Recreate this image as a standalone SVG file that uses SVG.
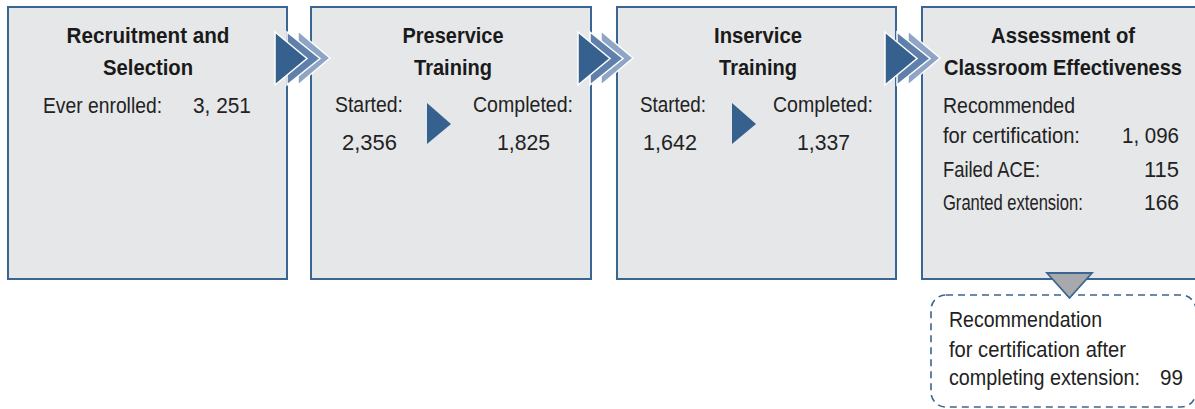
<svg xmlns="http://www.w3.org/2000/svg" width="1195" height="409" viewBox="0 0 1195 409">
<style>
.box{fill:#e6e7e9;stroke:#3b6592;stroke-width:2}
.t{font-family:"Liberation Sans",Arial,sans-serif;font-size:22.5px;font-weight:bold;fill:#1a1a1a;text-anchor:middle}
.b{font-family:"Liberation Sans",Arial,sans-serif;font-size:21.5px;fill:#222}
.r{text-anchor:end}
.c1{fill:#36608d;stroke:#fff;stroke-width:1.5}
.c2{fill:#5f80aa;stroke:#fff;stroke-width:1.5}
.c3{fill:#8ea5c5;stroke:#fff;stroke-width:1.5}
.sm{fill:#36608d}
</style>
<defs>
<g id="chev">
<polygon class="c3" points="23,-1 23,53 55,26"/>
<polygon class="c2" points="12,0 12,53 45,26.5"/>
<polygon class="c1" points="0,0 0,53 32,26.5"/>
</g>
</defs>
<g id="node1">
<rect class="box" x="8" y="7" width="279" height="272"/>
<text class="t" transform="translate(148,43) scale(0.86,1)" textLength="189.5" lengthAdjust="spacingAndGlyphs">Recruitment and</text>
<text class="t" transform="translate(148,75) scale(0.86,1)" textLength="104.7" lengthAdjust="spacingAndGlyphs">Selection</text>
<text class="b" transform="translate(43,113) scale(0.86,1)" textLength="138.4" lengthAdjust="spacingAndGlyphs">Ever enrolled:</text>
<text class="b" transform="translate(193,113) scale(0.86,1)" textLength="67.4" lengthAdjust="spacingAndGlyphs">3, 251</text>
</g>
<g id="node2">
<rect class="box" x="311" y="7" width="280" height="272"/>
<text class="t" transform="translate(453,43) scale(0.86,1)" textLength="117.4" lengthAdjust="spacingAndGlyphs">Preservice</text>
<text class="t" transform="translate(453,75) scale(0.86,1)" textLength="90.7" lengthAdjust="spacingAndGlyphs">Training</text>
<text class="b" transform="translate(335,112) scale(0.86,1)" textLength="79.1" lengthAdjust="spacingAndGlyphs">Started:</text>
<text class="b" transform="translate(342,150) scale(0.86,1)" textLength="64" lengthAdjust="spacingAndGlyphs">2,356</text>
<text class="b" transform="translate(473,112) scale(0.86,1)" textLength="116.3" lengthAdjust="spacingAndGlyphs">Completed:</text>
<text class="b" transform="translate(497,150) scale(0.86,1)" textLength="61.6" lengthAdjust="spacingAndGlyphs">1,825</text>
<polygon class="sm" points="427,103 427,144 451,124"/>
</g>
<g id="node3">
<rect class="box" x="617" y="7" width="279" height="272"/>
<text class="t" transform="translate(758,43) scale(0.86,1)" textLength="102.3" lengthAdjust="spacingAndGlyphs">Inservice</text>
<text class="t" transform="translate(758,75) scale(0.86,1)" textLength="90.7" lengthAdjust="spacingAndGlyphs">Training</text>
<text class="b" transform="translate(640,112) scale(0.86,1)" textLength="76.7" lengthAdjust="spacingAndGlyphs">Started:</text>
<text class="b" transform="translate(643,150) scale(0.86,1)" textLength="62.8" lengthAdjust="spacingAndGlyphs">1,642</text>
<text class="b" transform="translate(773,112) scale(0.86,1)" textLength="116.3" lengthAdjust="spacingAndGlyphs">Completed:</text>
<text class="b" transform="translate(797,150) scale(0.86,1)" textLength="61.6" lengthAdjust="spacingAndGlyphs">1,337</text>
<polygon class="sm" points="732,103 732,144 756,124"/>
</g>
<g id="node4">
<rect class="box" x="922" y="7" width="285" height="272"/>
<text class="t" transform="translate(1063,43) scale(0.86,1)" textLength="167.4" lengthAdjust="spacingAndGlyphs">Assessment of</text>
<text class="t" transform="translate(1063,75) scale(0.86,1)" textLength="276.7" lengthAdjust="spacingAndGlyphs">Classroom Effectiveness</text>
<text class="b" transform="translate(943,113) scale(0.86,1)" textLength="153.5" lengthAdjust="spacingAndGlyphs">Recommended</text>
<text class="b" transform="translate(943,143) scale(0.86,1)" textLength="159.3" lengthAdjust="spacingAndGlyphs">for certification:</text>
<text class="b r" transform="translate(1179,143) scale(0.86,1)" textLength="66.3" lengthAdjust="spacingAndGlyphs">1, 096</text>
<text class="b" transform="translate(943,177) scale(0.86,1)" textLength="112.8" lengthAdjust="spacingAndGlyphs">Failed ACE:</text>
<text class="b r" transform="translate(1179,177) scale(0.86,1)" textLength="40.7" lengthAdjust="spacingAndGlyphs">115</text>
<text class="b" transform="translate(943,210) scale(0.77,1)">Granted extension:</text>
<text class="b r" transform="translate(1179,210) scale(0.86,1)" textLength="40.7" lengthAdjust="spacingAndGlyphs">166</text>
</g>
<g id="node5">
<rect x="931" y="295" width="265" height="112" rx="15" ry="15" fill="#fff" stroke="#3b6592" stroke-width="1.6" stroke-dasharray="7 5"/>
<text class="b" transform="translate(949,327) scale(0.86,1)" textLength="177.9" lengthAdjust="spacingAndGlyphs">Recommendation</text>
<text class="b" transform="translate(949,357) scale(0.86,1)" textLength="205.8" lengthAdjust="spacingAndGlyphs">for certification after</text>
<text class="b" transform="translate(949,385) scale(0.86,1)" textLength="222.1" lengthAdjust="spacingAndGlyphs">completing extension:</text>
<text class="b" transform="translate(1160,385) scale(0.86,1)" textLength="26.7" lengthAdjust="spacingAndGlyphs">99</text>
</g>
<g id="connectors">
<use href="#chev" x="275" y="32"/>
<use href="#chev" x="578" y="32"/>
<use href="#chev" x="885" y="32"/>
<polygon points="1047,273 1092,273 1069.5,298" fill="#a7a9ac" stroke="#3b6592" stroke-width="1.8" stroke-linejoin="miter"/>
</g>
</svg>
